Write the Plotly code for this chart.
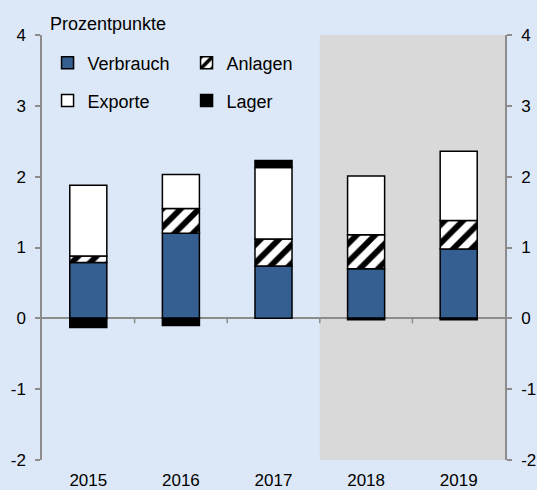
import plotly.graph_objects as go

# Contributions to growth, percentage points
years = ["2015", "2016", "2017", "2018", "2019"]
verbrauch = [0.79, 1.20, 0.74, 0.70, 0.98]
anlagen = [0.09, 0.35, 0.38, 0.48, 0.40]
exporte = [1.00, 0.48, 1.01, 0.83, 0.98]
lager = [-0.13, -0.10, 0.10, -0.02, -0.02]

y_ticks = [-2, -1, 0, 1, 2, 3, 4]
y_labels = ["-2", "-1", "0", "1", "2", "3", "4"]

BG = "#DCE8F7"
AXIS = "#8C8C8C"
FONT = "Liberation Sans, Arial, sans-serif"
OUTLINE = dict(color="black", width=1.5)
BAR_W = 0.4

fig = go.Figure()
fig.add_bar(x=years, y=verbrauch, name="Verbrauch", width=BAR_W,
            marker=dict(color="#355F91", line=OUTLINE), legend="legend")
fig.add_bar(x=years, y=anlagen, name="Anlagen", width=BAR_W,
            marker=dict(color="white", line=OUTLINE,
                        pattern=dict(shape="/", fgcolor="black", bgcolor="white",
                                     size=13, solidity=0.45, fillmode="replace")),
            legend="legend")
fig.add_bar(x=years, y=exporte, name="Exporte", width=BAR_W,
            marker=dict(color="white", line=OUTLINE), legend="legend2")
fig.add_bar(x=years, y=lager, name="Lager", width=BAR_W,
            marker=dict(color="black", line=OUTLINE), legend="legend2")
# empty trace so the right-hand value axis is drawn
fig.add_scatter(x=[], y=[], yaxis="y2", showlegend=False, hoverinfo="skip")

# forecast period shading (2018-2019)
fig.add_shape(type="rect", xref="paper", yref="paper", x0=0.6, x1=1, y0=0, y1=1,
              fillcolor="#D9D9D9", line_width=0, layer="below")

# small category-boundary ticks hanging from the zero line
for i in range(len(years) - 1):
    fig.add_shape(type="line", xref="x", yref="y", x0=i + 0.5, x1=i + 0.5,
                  ysizemode="pixel", yanchor=0, y0=0, y1=-5,
                  line=dict(color=AXIS, width=1.5))

fig.add_annotation(text="Prozentpunkte", xref="paper", yref="paper",
                   x=0.012, y=1.026, xanchor="left", yanchor="middle",
                   showarrow=False, font=dict(size=18, color="black", family=FONT))

legend_common = dict(orientation="h", xanchor="left", yanchor="middle",
                     entrywidth=94, entrywidthmode="pixels",
                     bgcolor="rgba(0,0,0,0)", borderwidth=0,
                     font=dict(size=18, color="black", family=FONT),
                     traceorder="normal")

yaxis_common = dict(range=[-2, 4], tickvals=y_ticks, ticktext=y_labels,
                    showgrid=False, automargin=False,
                    showline=True, linecolor=AXIS, linewidth=1.5,
                    ticks="outside", ticklen=5, tickwidth=1.5, tickcolor=AXIS,
                    ticklabelstandoff=6,
                    tickfont=dict(size=17, color="black", family=FONT))

fig.update_layout(
    width=537, height=490,
    margin=dict(l=42, r=32, t=35, b=30),
    paper_bgcolor=BG, plot_bgcolor=BG,
    barmode="relative",
    font=dict(family=FONT, color="black", size=17),
    legend=dict(x=0.012, y=0.934, **legend_common),
    legend2=dict(x=0.012, y=0.845, **legend_common),
    xaxis=dict(type="category", range=[-0.5, 4.5], showgrid=False, showline=False,
               ticks="", zeroline=False, automargin=False, ticklabelstandoff=8,
               tickfont=dict(size=17, color="black", family=FONT)),
    yaxis=dict(zeroline=True, zerolinecolor=AXIS, zerolinewidth=1.5, **yaxis_common),
    yaxis2=dict(overlaying="y", side="right", zeroline=False, **yaxis_common),
)

fig.write_html("out.html")
